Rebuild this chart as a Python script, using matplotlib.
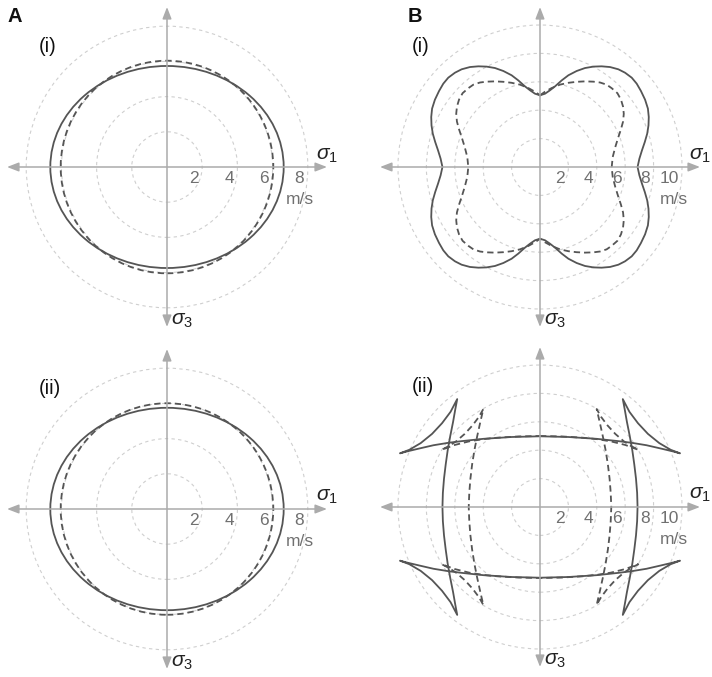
import matplotlib
matplotlib.use('Agg')
import matplotlib.pyplot as plt
from matplotlib.patches import Circle, Ellipse

plt.rcParams['font.family'] = ['Liberation Sans', 'DejaVu Sans']
plt.rcParams['mathtext.fontset'] = 'custom'
plt.rcParams['mathtext.it'] = 'Liberation Sans:italic'
plt.rcParams['mathtext.rm'] = 'Liberation Sans'

W, H = 712, 677

# speed rings (m/s)
rings_a = [2, 4, 6, 8]
rings_b = [2, 4, 6, 8, 10]

# column A: both curves are ellipses, semi-axes along (sigma1, sigma3)
a1_solid = (6.63, 5.74)
a1_dashed = (6.04, 6.04)
a2_solid = (6.63, 5.75)
a2_dashed = (6.04, 6.01)

# column B: one quadrant of each curve, traced from the sigma3 axis
# to the sigma1 axis (the other quadrants are mirror images)
b1_solid_x = [0, 0.35, 0.70, 1.06, 1.53, 2.00, 2.58, 3.17, 3.76, 4.34, 4.93,
              5.52, 5.99, 6.46, 6.81, 7.11, 7.40, 7.60, 7.66, 7.64, 7.55,
              7.38, 7.18, 7.00, 6.87]
b1_solid_y = [5.05, 5.16, 5.40, 5.68, 6.10, 6.46, 6.76, 6.97, 7.07, 7.09,
              7.04, 6.88, 6.64, 6.29, 5.87, 5.35, 4.74, 4.11, 3.52, 2.93,
              2.35, 1.76, 1.17, 0.59, 0]
b1_dashed_x = [0, 0.35, 0.82, 1.41, 2.00, 2.58, 3.17, 3.76, 4.23, 4.69, 5.05,
               5.45, 5.70, 5.85, 5.90, 5.85, 5.70, 5.50, 5.30, 5.12, 5.05]
b1_dashed_y = [5.05, 5.30, 5.56, 5.80, 5.93, 6.00, 6.03, 6.01, 5.95, 5.80,
               5.55, 5.20, 4.75, 4.25, 3.75, 3.20, 2.65, 2.05, 1.40, 0.70, 0]

# B(ii): horizontal branch -> cusp -> concave edge -> cusp -> vertical branch
b2_solid_x = [0, 2.0, 4.0, 5.5, 6.46, 7.5, 8.5, 9.3, 9.86,
              9.2, 8.4, 7.6, 6.9, 6.3, 5.83,
              5.98, 6.12, 6.32, 6.5, 6.64, 6.76, 6.84, 6.87]
b2_solid_y = [4.98, 4.93, 4.80, 4.64, 4.52, 4.35, 4.12, 3.93, 3.78,
              4.03, 4.50, 5.15, 5.90, 6.70, 7.60,
              6.8, 6.0, 5.0, 4.0, 3.0, 2.0, 1.0, 0]
b2_dashed_x = [0, 1.5, 3.0, 4.0, 5.0, 6.0, 6.92,
               6.4, 5.9, 5.3, 4.75, 4.3, 3.99,
               4.2, 4.42, 4.62, 4.78, 4.9, 4.98, 5.02]
b2_dashed_y = [5.0, 4.97, 4.88, 4.78, 4.62, 4.37, 4.03,
               4.3, 4.63, 5.15, 5.75, 6.35, 6.9,
               6.0, 5.0, 4.0, 3.0, 2.0, 1.0, 0]

CURVE = '#555555'
SOLID = dict(color=CURVE, lw=1.3, solid_joinstyle='round')
DASHED = dict(color=CURVE, lw=1.3, ls=(0, (3.5, 2.2)))
PX = 72 / 100  # points per pixel


def mirror(qx, qy):
    """Closes a one-quadrant trace into the full symmetric curve."""
    x = list(qx) + qx[::-1] + [-v for v in qx] + [-v for v in qx[::-1]]
    y = list(qy) + [-v for v in qy[::-1]] + [-v for v in qy] + qy[::-1]
    return x, y


def panel(cx, cy, ppu, rings, tag):
    half = 168
    ax = fig.add_axes([(cx - half) / W, 1 - (cy + half) / H,
                       2 * half / W, 2 * half / H])
    lim = half / ppu
    ax.set_xlim(-lim, lim)
    ax.set_ylim(-lim, lim)
    ax.axis('off')

    for r in rings:
        ax.add_patch(Circle((0, 0), r, fill=False, ec='#cfcfcf', lw=0.8,
                            ls=(0, (3, 3))))

    L = 160 / ppu
    arrow = dict(arrowstyle='<|-|>,head_length=0.7,head_width=0.27',
                 mutation_scale=10, shrinkA=0, shrinkB=0, lw=1.1,
                 color='#ababab')
    ax.annotate('', xy=(L, 0), xytext=(-L, 0), arrowprops=arrow)
    ax.annotate('', xy=(0, -L), xytext=(0, L), arrowprops=arrow)

    for r in rings:
        ax.annotate(str(r), (r, 0), xytext=(-3.5 * PX, -4 * PX),
                    textcoords='offset points', ha='right', va='top',
                    fontsize=12.5, color='#707070')
    ax.annotate('m/s', (rings[-1], 0), xytext=(-8 * PX, -33 * PX),
                textcoords='offset points', ha='center', va='center',
                fontsize=12.5, color='#707070')
    ax.annotate(r'$\sigma_1$', (L, 0), xytext=(0, 12 * PX),
                textcoords='offset points', ha='center', va='center',
                fontsize=15, color='#222222')
    ax.annotate(r'$\sigma_3$', (0, -L), xytext=(15 * PX, 6 * PX),
                textcoords='offset points', ha='center', va='center',
                fontsize=15, color='#222222')
    ax.annotate(tag, (0, 0), xytext=(-128 * PX, 120 * PX),
                textcoords='offset points', ha='left', va='center',
                fontsize=14.5, color='#111111')
    return ax


fig = plt.figure(figsize=(W / 100, H / 100), dpi=100)

ax = panel(167, 167, 17.6, rings_a, '(i)')
ax.add_patch(Ellipse((0, 0), 2 * a1_solid[0], 2 * a1_solid[1], fill=False,
                     ec=CURVE, lw=1.3))
ax.add_patch(Ellipse((0, 0), 2 * a1_dashed[0], 2 * a1_dashed[1], fill=False,
                     ec=CURVE, lw=1.3, ls=(0, (3.5, 2.2))))

ax = panel(167, 509, 17.6, rings_a, '(ii)')
ax.add_patch(Ellipse((0, 0), 2 * a2_solid[0], 2 * a2_solid[1], fill=False,
                     ec=CURVE, lw=1.3))
ax.add_patch(Ellipse((0, 0), 2 * a2_dashed[0], 2 * a2_dashed[1], fill=False,
                     ec=CURVE, lw=1.3, ls=(0, (3.5, 2.2))))

ax = panel(540, 167, 14.2, rings_b, '(i)')
ax.plot(*mirror(b1_solid_x, b1_solid_y), **SOLID)
ax.plot(*mirror(b1_dashed_x, b1_dashed_y), **DASHED)

ax = panel(540, 507, 14.2, rings_b, '(ii)')
ax.plot(*mirror(b2_solid_x, b2_solid_y), **SOLID)
ax.plot(*mirror(b2_dashed_x, b2_dashed_y), **DASHED)

fig.text(7 / W, 1 - 17 / H, 'A', fontsize=14.5, fontweight='bold',
         ha='left', va='center', color='#111111')
fig.text(408 / W, 1 - 17 / H, 'B', fontsize=14.5, fontweight='bold',
         ha='left', va='center', color='#111111')

fig.savefig('out.png', dpi=100)
